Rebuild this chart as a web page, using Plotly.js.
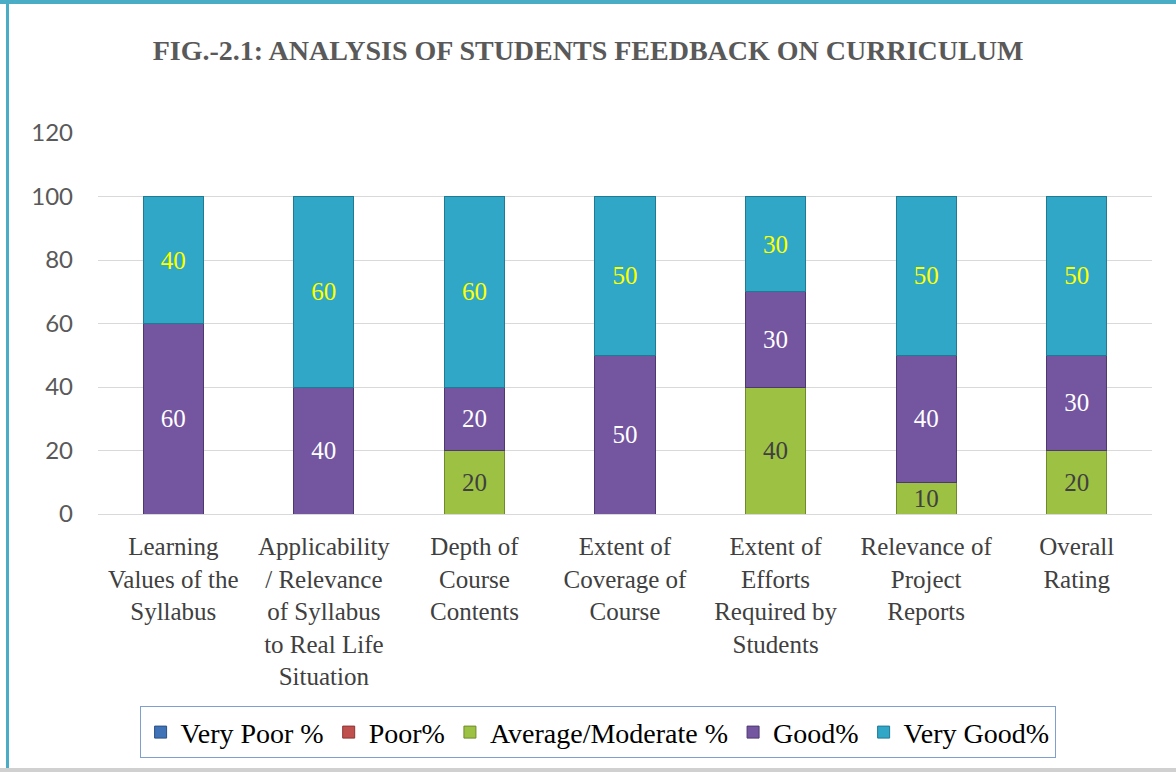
<!DOCTYPE html>
<html>
<head>
<meta charset="utf-8">
<script src="https://cdn.plot.ly/plotly-3.0.1.min.js"></script>
<style>
  body { margin: 0; background: #fff; }
  #wrap { position: relative; width: 1176px; height: 772px; }
  #chart { width: 1176px; height: 772px; }
  .edge { position: absolute; background: #4bacc6; }
</style>
</head>
<body>
<div id="wrap">
  <div id="chart"></div>
  <div class="edge" style="left:0;top:0;width:1176px;height:4px;"></div>
  <div class="edge" style="left:6px;top:0;width:3px;height:772px;"></div>
  <div class="edge" style="left:0;top:768px;width:1176px;height:4px;background:#d0d0d0;"></div>
</div>
<script>
// categories along the x axis
let categories = [
  'Learning<br>Values of the<br>Syllabus',
  'Applicability<br>/ Relevance<br>of Syllabus<br>to Real Life<br>Situation',
  'Depth of<br>Course<br>Contents',
  'Extent of<br>Coverage of<br>Course',
  'Extent of<br>Efforts<br>Required by<br>Students',
  'Relevance of<br>Project<br>Reports',
  'Overall<br>Rating'
];

// percentages for each rating
let veryPoor = [0, 0, 0, 0, 0, 0, 0];
let poor     = [0, 0, 0, 0, 0, 0, 0];
let average  = [0, 0, 20, 0, 40, 10, 20];
let good     = [60, 40, 20, 50, 30, 40, 30];
let veryGood = [40, 60, 60, 50, 30, 50, 50];

let serif = '"Liberation Serif", "Times New Roman", serif';

function labels(vals) {
  return vals.map(v => v ? String(v) : '');
}

function makeTrace(name, vals, fill, edge, txtColor) {
  return {
    x: categories,
    y: vals,
    name: name,
    type: 'bar',
    width: 0.4,
    text: labels(vals),
    textposition: 'inside',
    insidetextanchor: 'middle',
    textangle: 0,
    constraintext: 'none',
    textfont: { family: serif, size: 25, color: txtColor },
    hoverinfo: 'name+y',
    marker: { color: fill, line: { color: edge, width: 1 } }
  };
}

let trace1 = makeTrace('Very Poor %', veryPoor, '#3f72b6', '#2a4f80', '#ffffff');
let trace2 = makeTrace('Poor%', poor, '#c0504d', '#8a3532', '#ffffff');
let trace3 = makeTrace('Average/Moderate %', average, '#9dc143', '#6f8a2c', '#404040');
let trace4 = makeTrace('Good%', good, '#7455a0', '#4e3870', '#ffffff');
let trace5 = makeTrace('Very Good%', veryGood, '#31a7c8', '#1f7a93', '#ffff00');

let data = [trace1, trace2, trace3, trace4, trace5];

let layout = {
  width: 1176,
  height: 772,
  barmode: 'stack',
  paper_bgcolor: '#ffffff',
  plot_bgcolor: '#ffffff',
  margin: { l: 98, r: 24, t: 133, b: 258 },
  showlegend: true,
  title: {
    text: '<b>FIG.-2.1: ANALYSIS OF STUDENTS FEEDBACK ON CURRICULUM</b>',
    font: { family: serif, size: 28, color: '#595959' },
    x: 0.5,
    xanchor: 'center',
    yref: 'container',
    y: 0.935,
    yanchor: 'middle'
  },
  xaxis: {
    type: 'category',
    tickfont: { family: serif, size: 25, color: '#404040' },
    showgrid: false,
    showline: false,
    ticks: '',
    ticklabelstandoff: 15
  },
  yaxis: {
    range: [0, 120],
    dtick: 20,
    tickfont: { family: 'Lato, "Open Sans", sans-serif', size: 24, color: '#595959' },
    showgrid: true,
    gridcolor: '#d9d9d9',
    gridwidth: 1,
    zeroline: true,
    zerolinecolor: '#d9d9d9',
    showline: false,
    ticks: '',
    ticklabelstandoff: 24
  },
  legend: {
    orientation: 'h',
    x: 0.474,
    xanchor: 'center',
    y: -0.505,
    yanchor: 'top',
    bordercolor: '#7f9fcf',
    borderwidth: 1,
    font: { family: serif, size: 28, color: '#000000' },
    traceorder: 'normal',
    itemwidth: 30
  }
};

Plotly.newPlot('chart', data, layout, { displayModeBar: false });
</script>
</body>
</html>
